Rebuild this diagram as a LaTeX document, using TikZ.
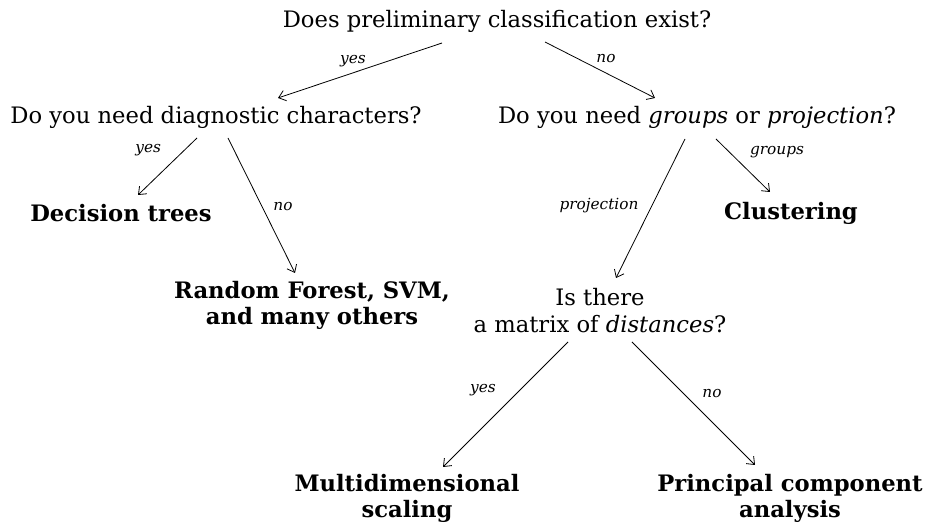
\documentclass[tikz,border=0pt]{standalone}
\usepackage{fontspec}
\setmainfont{DejaVu Serif}
\usetikzlibrary{arrows.meta}

\tikzset{
  question/.style={font=\fontsize{17}{20}\selectfont, align=center, inner sep=1pt},
  method/.style={font=\bfseries\fontsize{17}{20}\selectfont, align=center, inner sep=1pt},
  branch/.style={font=\itshape\fontsize{11.5}{13}\selectfont, inner sep=1pt},
  arr/.style={-{Straight Barb[length=5pt,width=8pt]}, line width=0.6pt},
}

\begin{document}
\begin{tikzpicture}[x=0.75pt, y=-0.75pt]
  \useasboundingbox (0,0) rectangle (933,530);
  % questions
  \node[question] (root) at (497,21) {Does preliminary classification exist?};
  \node[question] (diag) at (216,117.5) {Do you need diagnostic characters?};
  \node[question] (goal) at (697,117.5) {Do you need \textit{groups} or \textit{projection}?};
  \node[question] (dist) at (600,310.5) {Is there\\a matrix of \textit{distances}?};
  % methods
  \node[method] (dtree) at (121,213) {Decision trees};
  \node[method] (rf) at (312,305.5) {Random Forest, SVM,\\and many others};
  \node[method] (clust) at (791,213) {Clustering};
  \node[method] (mds) at (407,498.5) {Multidimensional\\scaling};
  \node[method] (pca) at (790,498.5) {Principal component\\analysis};
  % branches
  \draw[arr] ([shift={(-55,22)}]root.center) -- ([shift={(62,-19.5)}]diag.center)
    node[branch, pos=0.5, shift={(-7,-9)}] (b1) {yes};
  \draw[arr] ([shift={(48,21)}]root.center) -- ([shift={(-42,-19.5)}]goal.center)
    node[branch, pos=0.5, shift={(6,-11)}] (b2) {no};
  \draw[arr] ([shift={(-19,20.5)}]diag.center) -- ([shift={(17,-18)}]dtree.center)
    node[branch, pos=0.3, shift={(-31,-5)}] (b3) {yes};
  \draw[arr] ([shift={(12,20.5)}]diag.center) -- ([shift={(-17,-32.5)}]rf.center)
    node[branch, pos=0.5, shift={(21.5,1.5)}] (b4) {no};
  \draw[arr] ([shift={(-12,21.5)}]goal.center) -- ([shift={(16,-32.5)}]dist.center)
    node[branch, pos=0.5, shift={(-51.5,-2.5)}] (b5) {projection};
  \draw[arr] ([shift={(19,21.5)}]goal.center) -- ([shift={(-21,-21)}]clust.center)
    node[branch, pos=0.3, shift={(44.8,-2.5)}] (b6) {groups};
  \draw[arr] ([shift={(-32,31.5)}]dist.center) -- ([shift={(36,-31.5)}]mds.center)
    node[branch, pos=0.4, shift={(-35,-2)}] (b7) {yes};
  \draw[arr] ([shift={(32,31.5)}]dist.center) -- ([shift={(-35,-33.5)}]pca.center)
    node[branch, pos=0.5, shift={(18.5,-10)}] (b8) {no};
\end{tikzpicture}
\end{document}
